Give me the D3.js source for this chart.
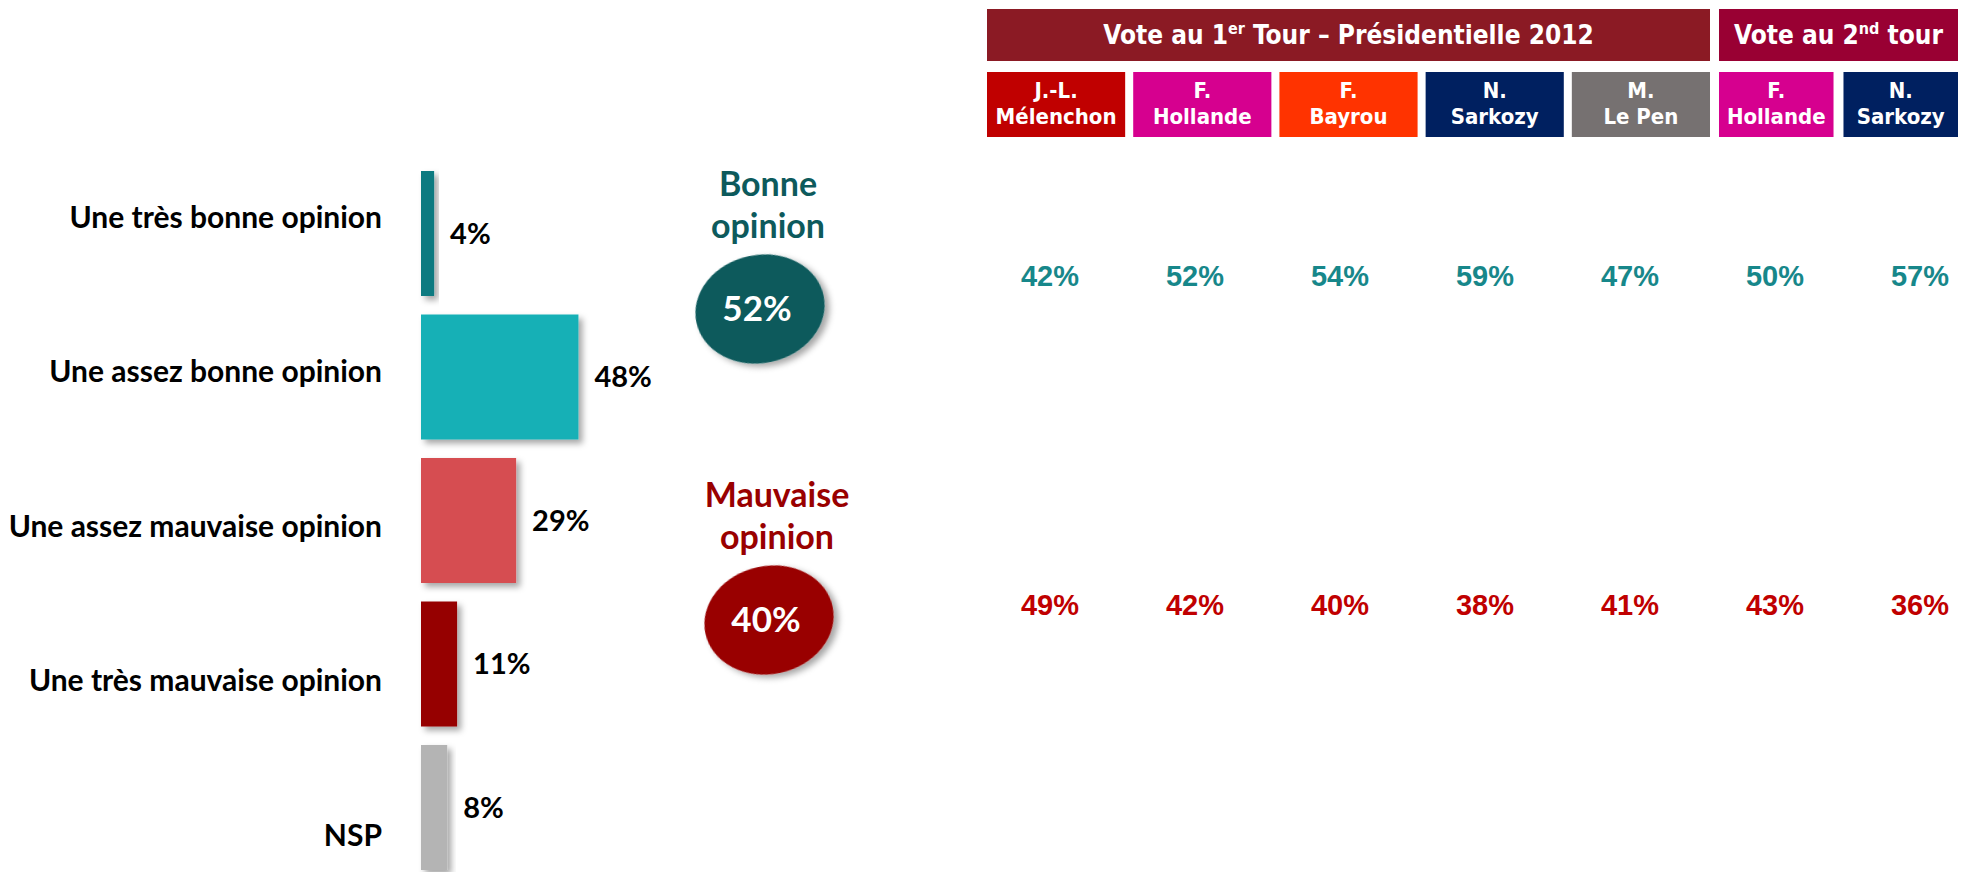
<!DOCTYPE html>
<html>
<head>
<meta charset="utf-8">
<script src="https://cdn.jsdelivr.net/npm/d3@7/dist/d3.min.js"></script>
<style>
  html, body { margin: 0; padding: 0; background: #fff; }
  svg { display: block; }
</style>
</head>
<body>
<div id="chart"></div>
<script>
// opinion breakdown (left bars)
const categories = ["Une très bonne opinion", "Une assez bonne opinion", "Une assez mauvaise opinion", "Une très mauvaise opinion", "NSP"];
const values = [4, 48, 29, 11, 8];
const barColors = ["#0f7a80", "#14b0b6", "#d64d51", "#960000", "#b4b4b4"];

// totals (ellipses)
const summaryTitles = [["Bonne", "opinion"], ["Mauvaise", "opinion"]];
const summaryValues = [52, 40];
const summaryColors = ["#0d5a5c", "#990000"];

// vote columns
const tour1Candidates = [["J.-L.", "Mélenchon"], ["F.", "Hollande"], ["F.", "Bayrou"], ["N.", "Sarkozy"], ["M.", "Le Pen"]];
const tour1Colors = ["#c00000", "#d6008f", "#ff3300", "#002060", "#767171"];
const tour2Candidates = [["F.", "Hollande"], ["N.", "Sarkozy"]];
const tour2Colors = ["#d6008f", "#002060"];
const bonneByVote = [42, 52, 54, 59, 47, 50, 57];
const mauvaiseByVote = [49, 42, 40, 38, 41, 43, 36];

const W = 1966, H = 872;
const svg = d3.select("#chart").append("svg")
  .attr("width", W).attr("height", H)
  .style("background", "#fff");

const defs = svg.append("defs");
defs.append("filter").attr("id", "shadow")
  .attr("x", "-20%").attr("y", "-20%").attr("width", "150%").attr("height", "150%")
  .append("feDropShadow")
  .attr("dx", 4).attr("dy", 4).attr("stdDeviation", 3)
  .attr("flood-color", "#000").attr("flood-opacity", 0.35);

const labelFont = "Lato, 'Open Sans', sans-serif";
const headFont = "'DejaVu Sans Condensed', 'DejaVu Sans', sans-serif";
const numFont = "'Liberation Sans', Arial, sans-serif";

// ---- left bars ----
const x = d3.scaleLinear().domain([0, 100]).range([421, 421 + 328]);
const y = d3.scaleBand().domain(categories).range([171, 870]).paddingInner(0.129);
const yLabel = d3.scalePoint().domain(categories).range([217, 835]);

const rows = categories.map((c, i) => ({ cat: c, v: values[i], color: barColors[i] }));

svg.append("g").selectAll("rect")
  .data(rows).join("rect")
  .attr("x", x(0))
  .attr("y", d => y(d.cat))
  .attr("width", d => x(d.v) - x(0))
  .attr("height", y.bandwidth())
  .attr("fill", d => d.color)
  .attr("filter", "url(#shadow)");

svg.append("g").selectAll("text")
  .data(rows).join("text")
  .attr("x", d => x(d.v) + 16)
  .attr("y", d => y(d.cat) + y.bandwidth() / 2)
  .attr("dy", "0.35em")
  .attr("font-family", labelFont)
  .attr("font-weight", 700)
  .attr("font-size", 29)
  .attr("fill", "#000")
  .text(d => d.v + "%");

svg.append("g").selectAll("text")
  .data(rows).join("text")
  .attr("x", 382)
  .attr("y", d => yLabel(d.cat))
  .attr("dy", "0.35em")
  .attr("text-anchor", "end")
  .attr("font-family", labelFont)
  .attr("font-weight", 700)
  .attr("font-size", 30)
  .attr("fill", "#000")
  .text(d => d.cat);

// ---- summary ellipses ----
const ySum = d3.scalePoint().domain([0, 1]).range([309, 620]);
const sums = summaryValues.map((v, i) => ({ v, title: summaryTitles[i], color: summaryColors[i], i }));

const sumG = svg.append("g").selectAll("g")
  .data(sums).join("g")
  .attr("transform", d => `translate(${760 + d.i * 9},${ySum(d.i)})`);

sumG.append("ellipse")
  .attr("rx", 65).attr("ry", 54)
  .attr("transform", "rotate(-12)")
  .attr("fill", d => d.color)
  .attr("filter", "url(#shadow)");

sumG.append("text")
  .attr("x", -3)
  .attr("dy", "0.35em")
  .attr("text-anchor", "middle")
  .attr("font-family", labelFont)
  .attr("font-weight", 700)
  .attr("font-size", 35)
  .attr("fill", "#fff")
  .text(d => d.v + "%");

sumG.append("text")
  .attr("text-anchor", "middle")
  .attr("font-family", labelFont)
  .attr("font-weight", 700)
  .attr("font-size", 34)
  .attr("fill", d => d.color)
  .selectAll("tspan")
  .data(d => d.title)
  .join("tspan")
  .attr("x", 8)
  .attr("y", (t, j) => -113 + j * 42)
  .text(t => t);

// ---- header boxes ----
const headers = [
  { parts: ["Vote au 1", "er", " Tour – Présidentielle 2012"], x0: 987, x1: 1710, color: "#8b1a24" },
  { parts: ["Vote au 2", "nd", " tour"], x0: 1719, x1: 1958, color: "#990033" }
];

const headG = svg.append("g").selectAll("g").data(headers).join("g");
headG.append("rect")
  .attr("x", d => d.x0).attr("y", 9)
  .attr("width", d => d.x1 - d.x0).attr("height", 52)
  .attr("fill", d => d.color);
const headText = headG.append("text")
  .attr("x", d => (d.x0 + d.x1) / 2)
  .attr("y", 44)
  .attr("text-anchor", "middle")
  .attr("font-family", headFont)
  .attr("font-weight", 700)
  .attr("font-size", 26)
  .attr("fill", "#fff");
headText.append("tspan").text(d => d.parts[0]);
headText.append("tspan").attr("font-size", 16).attr("dy", -10).text(d => d.parts[1]);
headText.append("tspan").attr("dy", 10).text(d => d.parts[2]);

// ---- candidate boxes ----
const band1 = d3.scaleBand().domain(d3.range(5)).range([987, 1710]).paddingInner(0.055);
const band2 = d3.scaleBand().domain(d3.range(2)).range([1719, 1958]).paddingInner(0.08);

const cands = tour1Candidates.map((n, i) => ({ name: n, color: tour1Colors[i], x: band1(i), w: band1.bandwidth() }))
  .concat(tour2Candidates.map((n, i) => ({ name: n, color: tour2Colors[i], x: band2(i), w: band2.bandwidth() })));

const candG = svg.append("g").selectAll("g").data(cands).join("g");
candG.append("rect")
  .attr("x", d => d.x).attr("y", 72)
  .attr("width", d => d.w).attr("height", 65)
  .attr("fill", d => d.color);
candG.append("text")
  .attr("text-anchor", "middle")
  .attr("font-family", headFont)
  .attr("font-weight", 700)
  .attr("font-size", 22)
  .attr("fill", "#fff")
  .selectAll("tspan")
  .data(d => d.name.map(t => ({ t, cx: d.x + d.w / 2 })))
  .join("tspan")
  .attr("x", t => t.cx)
  .attr("y", (t, j) => 98 + j * 26)
  .text(t => t.t);

// ---- vote values ----
const colNames = d3.range(bonneByVote.length);
const xv = d3.scalePoint().domain(colNames).range([1050, 1920]);

const valRows = [
  { vals: bonneByVote, y: 276, color: "#17878a" },
  { vals: mauvaiseByVote, y: 605, color: "#c00000" }
];
valRows.forEach(r => {
  svg.append("g").selectAll("text")
    .data(r.vals).join("text")
    .attr("x", (d, i) => xv(i))
    .attr("y", r.y)
    .attr("dy", "0.35em")
    .attr("text-anchor", "middle")
    .attr("font-family", numFont)
    .attr("font-weight", 700)
    .attr("font-size", 29)
    .attr("fill", r.color)
    .text(d => d + "%");
});
</script>
</body>
</html>
